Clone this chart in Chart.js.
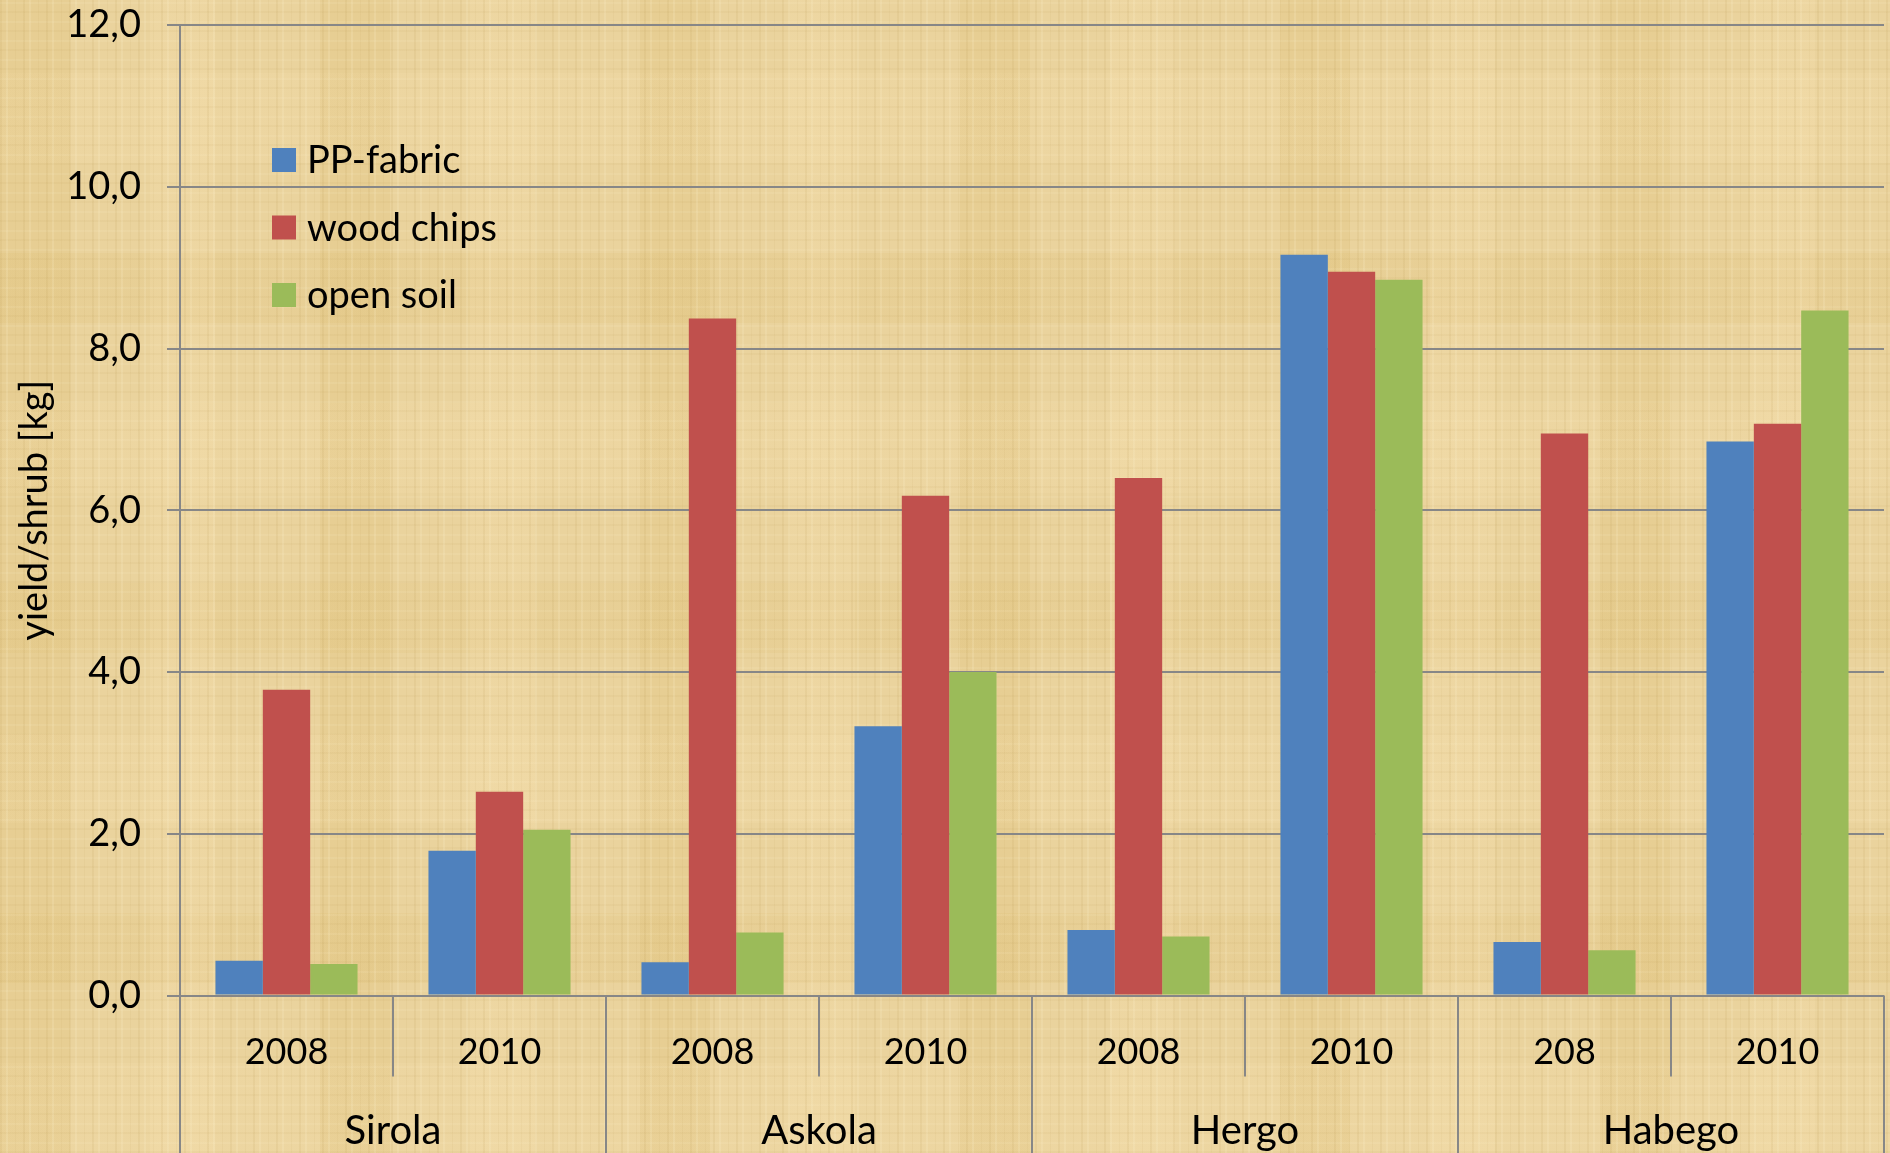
<!DOCTYPE html>
<html>
<head>
<meta charset="utf-8">
<script src="https://cdn.jsdelivr.net/npm/chart.js@4.4.1/dist/chart.umd.min.js"></script>
<style>
  html, body { margin: 0; padding: 0; }
  body {
    width: 1890px;
    height: 1153px;
    overflow: hidden;
    background-color: #ead39d;
    background-image:
      repeating-linear-gradient(90deg, rgba(170,135,60,0.09) 0 2px, transparent 2px 6px, rgba(255,244,210,0.16) 6px 8px, transparent 8px 15px, rgba(170,135,60,0.06) 15px 16px, transparent 16px 23px),
      repeating-linear-gradient(0deg, rgba(170,135,60,0.06) 0 2px, transparent 2px 9px, rgba(255,244,210,0.10) 9px 11px, transparent 11px 19px),
      repeating-linear-gradient(90deg, rgba(215,180,95,0.16) 0 70px, transparent 70px 150px, rgba(250,228,180,0.20) 150px 215px, transparent 215px 320px),
      repeating-linear-gradient(0deg, rgba(250,228,180,0.16) 0 90px, transparent 90px 170px, rgba(215,180,95,0.12) 170px 240px, transparent 240px 330px);
  }
  canvas { display: block; }
</style>
</head>
<body>
<canvas id="yieldChart" width="1890" height="1153"></canvas>
<script>
const sites = ["Sirola", "Askola", "Hergo", "Habego"];
const years = ["2008", "2010", "2008", "2010", "2008", "2010", "208", "2010"];
const ppFabric = [0.43, 1.79, 0.41, 3.33, 0.81, 9.16, 0.66, 6.85];
const woodChips = [3.78, 2.52, 8.37, 6.18, 6.40, 8.95, 6.95, 7.07];
const openSoil = [0.39, 2.05, 0.78, 4.00, 0.73, 8.85, 0.56, 8.47];

const gridColor = "#878787";
const fontFamily = "Lato, 'Noto Sans', sans-serif";

// category axis with two rows (year, site) and the divider lines between them
const groupAxis = {
  id: "groupAxis",
  afterDraw(chart) {
    const ctx = chart.ctx;
    const x = chart.scales.x;
    const area = chart.chartArea;
    const half = (x.getPixelForValue(1) - x.getPixelForValue(0)) / 2;
    const perSite = years.length / sites.length;
    ctx.save();
    ctx.strokeStyle = gridColor;
    ctx.lineWidth = 2;
    for (let i = 0; i <= years.length; i++) {
      const px = i < years.length ? x.getPixelForValue(i) - half : x.getPixelForValue(i - 1) + half;
      const bottom = i % perSite === 0 ? chart.height : area.bottom + 81;
      ctx.beginPath();
      ctx.moveTo(px, area.bottom);
      ctx.lineTo(px, bottom);
      ctx.stroke();
    }
    ctx.fillStyle = "#000";
    ctx.textAlign = "center";
    ctx.textBaseline = "middle";
    ctx.font = "36px " + fontFamily;
    years.forEach((y, i) => ctx.fillText(y, x.getPixelForValue(i), area.bottom + 57));
    ctx.font = "40px " + fontFamily;
    sites.forEach((s, k) => {
      const a = x.getPixelForValue(k * perSite);
      const b = x.getPixelForValue(k * perSite + perSite - 1);
      ctx.fillText(s, (a + b) / 2, area.bottom + 136);
    });
    ctx.restore();
  }
};

// legend placed inside the plot, upper left
const innerLegend = {
  id: "innerLegend",
  afterDraw(chart) {
    const ctx = chart.ctx;
    ctx.save();
    ctx.font = "38px " + fontFamily;
    ctx.textBaseline = "middle";
    ctx.textAlign = "left";
    chart.data.datasets.forEach((ds, i) => {
      const cy = 160 + i * 67.5;
      ctx.fillStyle = ds.backgroundColor;
      ctx.fillRect(272, cy - 12, 24, 24);
      ctx.fillStyle = "#000";
      ctx.fillText(ds.label, 307, cy + 1);
    });
    ctx.restore();
  }
};

new Chart(document.getElementById("yieldChart"), {
  type: "bar",
  data: {
    labels: years,
    datasets: [
      { label: "PP-fabric", data: ppFabric, backgroundColor: "#4f81bd" },
      { label: "wood chips", data: woodChips, backgroundColor: "#c0504d" },
      { label: "open soil", data: openSoil, backgroundColor: "#9bbb59" }
    ]
  },
  options: {
    responsive: false,
    devicePixelRatio: 1,
    animation: false,
    datasets: { bar: { categoryPercentage: 0.667, barPercentage: 1 } },
    layout: { padding: { top: 25, right: 6, left: 0, bottom: 0 } },
    plugins: {
      legend: { display: false },
      tooltip: { enabled: false }
    },
    scales: {
      x: {
        ticks: { display: false },
        grid: { display: false },
        border: { display: false },
        afterFit(scale) { scale.height = 157.5; }
      },
      y: {
        min: 0,
        max: 12,
        ticks: {
          stepSize: 2,
          padding: 26,
          color: "#000",
          font: { family: fontFamily, size: 38 },
          callback: v => v.toFixed(1).replace(".", ",")
        },
        grid: { color: gridColor, lineWidth: 2, tickLength: 13 },
        border: { display: true, color: gridColor, width: 2 },
        title: {
          display: true,
          text: "yield/shrub [kg]",
          color: "#000",
          font: { family: fontFamily, size: 38 },
          padding: { top: 12, bottom: 0 }
        },
        afterFit(scale) {
          scale.width = 180;
          scale.paddingTop = 0;
          scale.paddingBottom = 0;
        }
      }
    }
  },
  plugins: [groupAxis, innerLegend]
});
</script>
</body>
</html>
